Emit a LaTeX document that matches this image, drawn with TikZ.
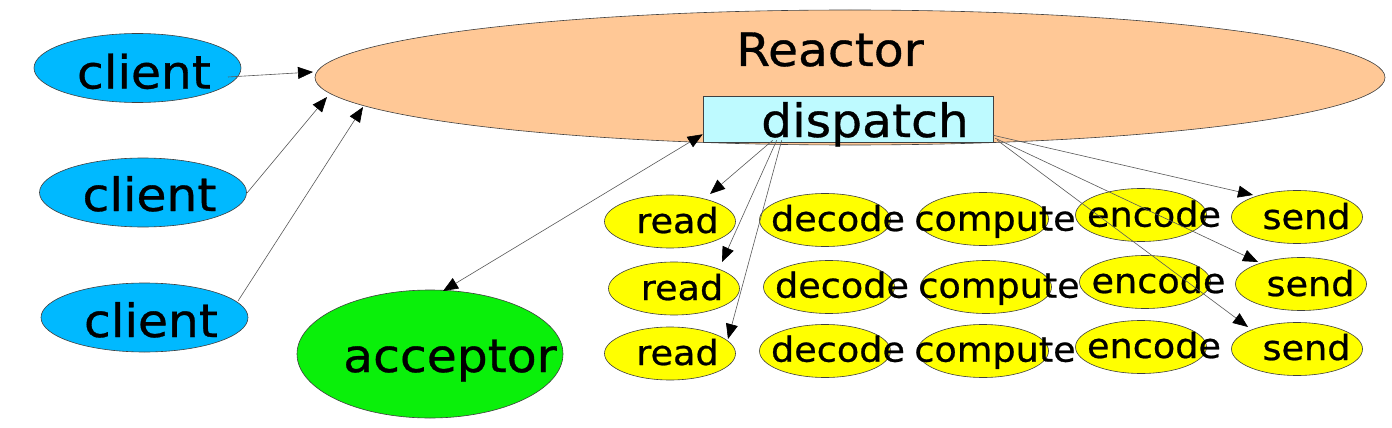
\documentclass[tikz,border=0pt]{standalone}
\usepackage{fontspec}
\setmainfont{DejaVu Sans}[FakeStretch=1.06,FakeBold=0.7]
\usetikzlibrary{shapes.geometric,arrows.meta,calc}
\definecolor{clientc}{RGB}{0,185,255}
\definecolor{reactorc}{RGB}{255,200,150}
\definecolor{dispc}{RGB}{190,250,255}
\definecolor{acceptc}{RGB}{10,240,10}
\definecolor{yelc}{RGB}{255,255,0}
\tikzset{
  ell/.style={ellipse, draw=black!75, line width=0.6pt, inner sep=0pt},
  yel/.style={ell, fill=yelc, minimum width=131pt, minimum height=53pt},
  cli/.style={ell, fill=clientc, minimum width=207pt, minimum height=69pt},
  bigt/.style={anchor=base, inner sep=0pt, font=\fontsize{46}{54}\selectfont},
  smallt/.style={anchor=base, inner sep=0pt, font=\fontsize{34.5}{40}\selectfont},
  tip/.tip={Triangle[length=15pt,width=12pt,color=black]},
  arr/.style={draw=black!65, line width=0.6pt, -tip},
  arrtwo/.style={draw=black!65, line width=0.6pt, tip-tip}
}
\begin{document}
\begin{tikzpicture}[x=1pt,y=-1pt]
\fill[white] (0,0) rectangle (1392,428);
\path[use as bounding box] (0,0) rectangle (1392,428);
% Reactor
\node[ell, fill=reactorc, minimum width=1070pt, minimum height=135pt] (reactor) at (850,77.5) {};
\node[bigt] (treactor) at (830,66) {Reactor};
\node[draw=black!75, line width=0.6pt, fill=dispc, minimum width=290pt, minimum height=46pt, inner sep=0pt] (disp) at (848,119) {};
\node[bigt] (tdisp) at (865,137) {dispatch};
% clients
\node[cli] (c1) at (137.5,68) {};
\node[cli] (c2) at (143,192.5) {};
\node[cli] (c3) at (144.5,317.5) {};
\node[bigt] (tc1) at (144,88.5) {client};
\node[bigt] (tc2) at (149.5,211) {client};
\node[bigt] (tc3) at (151,337) {client};
% acceptor
\node[ell, fill=acceptc, minimum width=266pt, minimum height=128pt] (acc) at (430,354) {};
\node[bigt] (tacc) at (450,372) {acceptor};
% row ellipses
\node[yel] (r1) at (670,221.5) {};
\node[yel] (r2) at (674,288.5) {};
\node[yel] (r3) at (670,353.5) {};
\node[yel] (d1) at (825,220) {};
\node[yel] (d2) at (829,287) {};
\node[yel] (d3) at (825,351) {};
\node[yel] (m1) at (983,219) {};
\node[yel] (m2) at (986,287) {};
\node[yel] (m3) at (983,351) {};
\node[yel] (e1) at (1141,215) {};
\node[yel] (e2) at (1145,282) {};
\node[yel] (e3) at (1141,347) {};
\node[yel] (s1) at (1297,217) {};
\node[yel] (s2) at (1301,284) {};
\node[yel] (s3) at (1297,349) {};
% row texts
\node[smallt] (tr1) at (677.5,233) {read};
\node[smallt] (tr2) at (682,300) {read};
\node[smallt] (tr3) at (677.5,365) {read};
\node[smallt] (td1) at (838,231) {decode};
\node[smallt] (td2) at (842,297.7) {decode};
\node[smallt] (td3) at (838,361.7) {decode};
\node[smallt] (tm1) at (995,230.7) {compute};
\node[smallt] (tm2) at (999,297.7) {compute};
\node[smallt] (tm3) at (995,361.7) {compute};
\node[smallt] (te1) at (1154,226.7) {encode};
\node[smallt] (te2) at (1158.5,293) {encode};
\node[smallt] (te3) at (1154,358) {encode};
\node[smallt] (ts1) at (1306.5,229) {send};
\node[smallt] (ts2) at (1310.5,296) {send};
\node[smallt] (ts3) at (1306.5,360) {send};
% connectors
\draw[arr] ($(c1)+(90.5,9)$) -- ($(reactor)+(-537,-5.5)$);
\draw[arr] ($(c2)+(104,0.5)$) -- ($(reactor)+(-523,19.5)$);
\draw[arr] ($(c3)+(93.5,-16.5)$) -- ($(reactor)+(-487,29.5)$);
\draw[arrtwo] ($(disp.south west)+(0,-8)$) -- ($(acc)+(13,-63)$);
\draw[arr] ($(disp.south west)+(70,-2)$) -- ($(r1)+(40,-27.5)$);
\draw[arr] ($(disp.south west)+(74,-2)$) -- ($(r2)+(48,-26.5)$);
\draw[arr] ($(disp.south west)+(79,-2)$) -- ($(r3)+(58,-14.5)$);
\draw[arr] ($(disp.south east)+(0,-7)$) -- ($(s1)+(-44,-22)$);
\draw[arr] ($(disp.south east)+(2,-4)$) -- ($(s2)+(-43,-22)$);
\draw[arr] ($(disp.south east)+(4,-2)$) -- ($(s3)+(-49,-22)$);
\end{tikzpicture}
\end{document}
